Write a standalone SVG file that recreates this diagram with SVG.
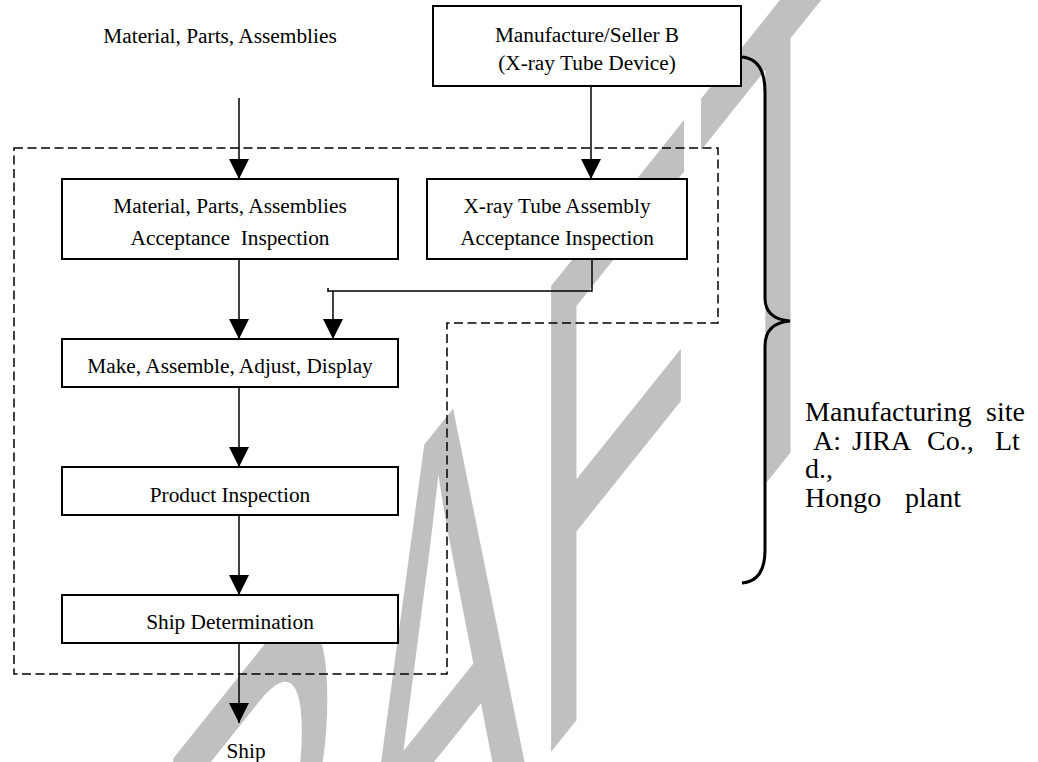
<svg xmlns="http://www.w3.org/2000/svg" width="1038" height="762" viewBox="0 0 1038 762">
<style>
.t{font-family:"Liberation Serif","Times New Roman",serif;font-size:21.33px;fill:#000;text-anchor:middle}
.r{font-family:"Liberation Serif","Times New Roman",serif;font-size:28px;fill:#000}
.box{fill:#fff;stroke:#000;stroke-width:2}
.ln{fill:none;stroke:#000;stroke-width:1.5}
.dash{fill:none;stroke:#000;stroke-width:1.5;stroke-dasharray:9 4.5}
.wm{font-family:"Liberation Sans",Arial,sans-serif;font-size:100px;fill:#c0c0c0}
</style>
<defs>
<marker id="ah" markerUnits="userSpaceOnUse" markerWidth="20" markerHeight="20" refX="20" refY="10" orient="auto" viewBox="0 0 20 20">
<path d="M0,0 L20,10 L0,20 Z" fill="#000"/>
</marker>
</defs>
<rect width="1038" height="762" fill="#fff"/>
<g id="watermark">
<text class="wm" x="0" y="0" transform="matrix(2.72,-3.4,0,6.77,-45.5,1497.6)">DRAFT</text>
</g>
<g id="boundary">
<path class="dash" d="M14,148 H718 V323 H447 V674 H14 Z"/>
<path d="M742,57 Q765,59 765,92 L765,298 Q765,319 790,321 Q765,323 765,346 L765,550 Q765,581 742,583" fill="none" stroke="#000" stroke-width="3"/>
</g>
<g id="connectors">
<line class="ln" x1="239" y1="98" x2="239" y2="179" marker-end="url(#ah)"/>
<line class="ln" x1="591" y1="86" x2="591" y2="179" marker-end="url(#ah)"/>
<line class="ln" x1="239" y1="259" x2="239" y2="339" marker-end="url(#ah)"/>
<path class="ln" d="M592,259 V291 H328 M328,288 V292"/>
<line class="ln" x1="333" y1="291" x2="333" y2="339" marker-end="url(#ah)"/>
<line class="ln" x1="239" y1="387" x2="239" y2="467" marker-end="url(#ah)"/>
<line class="ln" x1="239" y1="515" x2="239" y2="595" marker-end="url(#ah)"/>
<line class="ln" x1="239" y1="643" x2="239" y2="723" marker-end="url(#ah)"/>
</g>
<g id="input-label">
<text class="t" x="220" y="43">Material, Parts, Assemblies</text>
</g>
<g id="seller-b">
<rect class="box" x="433" y="6" width="308" height="80"/>
<text class="t" x="587" y="42">Manufacture/Seller B</text>
<text class="t" x="587" y="70">(X-ray Tube Device)</text>
</g>
<g id="mpa-inspection">
<rect class="box" x="62" y="179" width="336" height="80"/>
<text class="t" x="230" y="213">Material, Parts, Assemblies</text>
<text class="t" x="230" y="245" xml:space="preserve">Acceptance  Inspection</text>
</g>
<g id="xray-inspection">
<rect class="box" x="427" y="179" width="260" height="80"/>
<text class="t" x="557" y="213">X-ray Tube Assembly</text>
<text class="t" x="557" y="245">Acceptance Inspection</text>
</g>
<g id="make">
<rect class="box" x="62" y="339" width="336" height="48"/>
<text class="t" x="230" y="373">Make, Assemble, Adjust, Display</text>
</g>
<g id="product-inspection">
<rect class="box" x="62" y="467" width="336" height="48"/>
<text class="t" x="230" y="502">Product Inspection</text>
</g>
<g id="ship-determination">
<rect class="box" x="62" y="595" width="336" height="48"/>
<text class="t" x="230" y="629">Ship Determination</text>
</g>
<g id="ship">
<text class="t" x="246" y="758">Ship</text>
</g>
<g id="site-label">
<text class="r" y="421"><tspan x="805">Manufacturing</tspan><tspan x="986">site</tspan></text>
<text class="r" y="450"><tspan x="813">A:</tspan><tspan x="852">JIRA</tspan><tspan x="927">Co.,</tspan><tspan x="995">Lt</tspan></text>
<text class="r" x="805" y="478">d.,</text>
<text class="r" y="507"><tspan x="805">Hongo</tspan><tspan x="905">plant</tspan></text>
</g>
</svg>
